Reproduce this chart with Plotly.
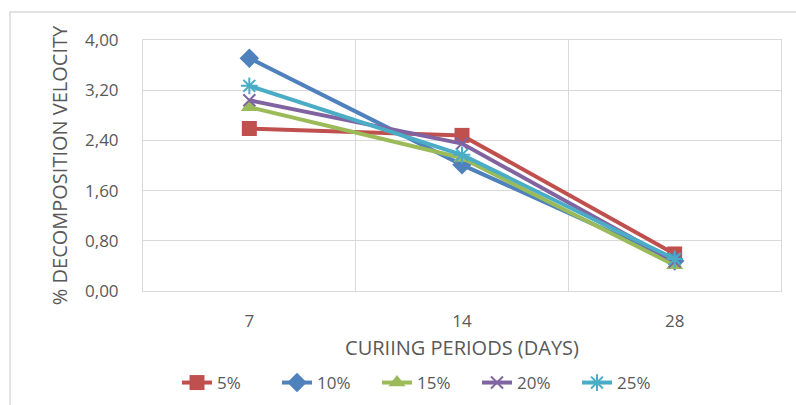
import plotly.graph_objects as go

periods = ["7", "14", "28"]
series_names = ["5%", "10%", "15%", "20%", "25%"]
v5 = [2.59, 2.48, 0.59]
v10 = [3.71, 2.01, 0.48]
v15 = [2.93, 2.12, 0.41]
v20 = [3.04, 2.35, 0.47]
v25 = [3.27, 2.17, 0.51]
y_ticks = [0.0, 0.8, 1.6, 2.4, 3.2, 4.0]

colors = ["#C0504D", "#4F81BD", "#9BBB59", "#8064A2", "#4BACC6"]
symbols = ["square", "diamond", "triangle-up", "x-thin", "asterisk"]
sizes = [15, 15, 15, 12, 14]
values = [v5, v10, v15, v20, v25]

W, H = 796, 405
L, R, T, B = 143, 15, 40, 114
pw, ph = W - L - R, H - T - B

fig = go.Figure()
for name, vals, c, s, sz in zip(series_names, values, colors, symbols, sizes):
    thin = s in ("x-thin", "asterisk")
    fig.add_trace(go.Scatter(
        x=periods, y=vals, name=name, mode="lines+markers",
        line=dict(color=c, width=4),
        marker=dict(symbol=s, size=sz, color=c,
                    line=dict(color=c, width=2 if thin else 0)),
    ))

grid = "#D9D9D9"
fig.update_layout(
    width=W, height=H,
    margin=dict(l=L, r=R, t=T, b=B, autoexpand=False),
    paper_bgcolor="white", plot_bgcolor="white",
    separators=", ",
    font=dict(family="Open Sans", color="#595959", size=17),
    showlegend=True,
    legend=dict(orientation="h", x=(177 - L) / pw, xanchor="left",
                y=(H - B - 383) / ph, yanchor="middle",
                font=dict(size=17, color="#595959"),
                entrywidth=55, entrywidthmode="pixels",
                itemwidth=30, tracegroupgap=0),
    xaxis=dict(type="category", range=[-0.5, 2.5], tickson="boundaries",
               automargin=False,
               showgrid=True, gridcolor=grid, gridwidth=1,
               showline=True, linecolor=grid, mirror=True,
               ticks="", ticklabelstandoff=15,
               tickfont=dict(size=17, color="#595959"),
               title=dict(text="CURIING PERIODS (DAYS)", standoff=9,
                          font=dict(size=20, color="#595959"))),
    yaxis=dict(range=[0, 4.0], tickvals=y_ticks, tickformat=".2f",
               automargin=False,
               showgrid=True, gridcolor=grid, gridwidth=1,
               zeroline=False, showline=True, linecolor=grid, mirror=True,
               ticks="", ticklabelstandoff=20,
               tickfont=dict(size=17, color="#595959"),
               title=dict(text="% DECOMPOSITION VELOCITY", standoff=12,
                          font=dict(size=20, color="#595959"))),
)

# chart outer border (left and top visible)
fig.add_shape(type="rect", xref="paper", yref="paper",
              x0=(10 - L) / pw, x1=(W + 20 - L) / pw,
              y0=(H - B - (H + 20)) / ph, y1=(H - B - 12) / ph,
              line=dict(color=grid, width=1.5), layer="below")

fig.write_html("out.html",
               config={"displayModeBar": False},
               post_script="document.body.style.margin='0';"
                           "document.body.style.overflow='hidden';")
